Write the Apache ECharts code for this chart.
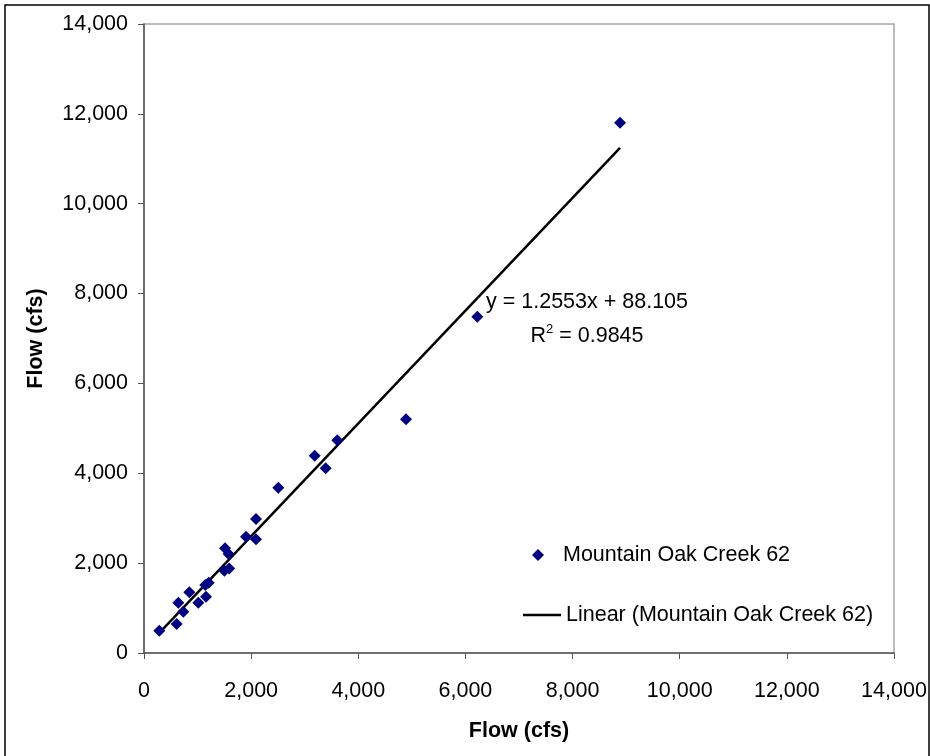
<!DOCTYPE html>
<html>
<head>
<meta charset="utf-8">
<script src="https://cdn.jsdelivr.net/npm/echarts@6/dist/echarts.min.js"></script>
<style>
  html, body { margin: 0; padding: 0; background: #fff; }
  #chart { width: 930px; height: 756px; }
</style>
</head>
<body>
<div id="chart"></div>
<script>
// Observed flow pairs (cfs)
const flowX = [286, 610, 641, 734, 846, 1014, 1157, 1145, 1207, 1512, 1580, 1500, 1590,
               1904, 2091, 2091, 2507, 3186, 3391, 3609, 4891, 6222, 8886];
const flowY = [496, 645, 1120, 920, 1351, 1120, 1254, 1513, 1565, 2330, 2203, 1830, 1880,
               2589, 2531, 2982, 3680, 4392, 4110, 4734, 5201, 7485, 11803];

// Least-squares fit reported for the series
const fitSlope = 1.2553;
const fitIntercept = 88.105;
const fitR2 = 0.9845;

const seriesName = 'Mountain Oak Creek 62';
const trendName = 'Linear (Mountain Oak Creek 62)';
const axisTitle = 'Flow (cfs)';

const points = flowX.map((x, i) => [x, flowY[i]]);
const xMin = Math.min(...flowX);
const xMax = Math.max(...flowX);
const trend = [xMin, xMax].map(x => [x, fitSlope * x + fitIntercept]);

const FONT = '"Liberation Sans", Arial, sans-serif';
const FS = 21.5;
const fmt = v => v.toLocaleString('en-US');

const chart = echarts.init(document.getElementById('chart'), null, { renderer: 'canvas' });

const axisCommon = {
  type: 'value',
  min: 0,
  max: 14000,
  interval: 2000,
  splitLine: { show: false },
  axisLine: { show: true, onZero: false, lineStyle: { color: '#555', width: 1.5 } },
  axisTick: { show: true, inside: false, length: 6, lineStyle: { color: '#555', width: 1 } },
  nameLocation: 'middle',
  nameTextStyle: { fontFamily: FONT, fontSize: FS, fontWeight: 'bold', color: '#000' }
};

chart.setOption({
  animation: false,
  backgroundColor: '#fff',
  grid: {
    left: 144, top: 24, right: 36, bottom: 103,
    show: true, borderColor: '#a6a6a6', borderWidth: 1.5,
    outerBoundsMode: 'none', containLabel: false
  },
  xAxis: Object.assign({}, axisCommon, {
    name: axisTitle,
    nameGap: 67,
    axisLabel: { margin: 27, formatter: fmt, fontFamily: FONT, fontSize: FS, color: '#000' }
  }),
  yAxis: Object.assign({}, axisCommon, {
    name: axisTitle,
    nameGap: 97,
    nameRotate: 90,
    axisLabel: { margin: 16, formatter: fmt, fontFamily: FONT, fontSize: FS, color: '#000' }
  }),
  legend: [
    {
      data: [{ name: seriesName, icon: 'diamond' }],
      left: 527, top: 539,
      itemWidth: 12, itemHeight: 12,
      selectedMode: false,
      textStyle: { fontFamily: FONT, fontSize: FS, color: '#000', padding: [0, 0, 0, 14] }
    },
    {
      data: [{ name: trendName, icon: 'rect', itemStyle: { color: '#000' } }],
      left: 518, top: 599,
      itemWidth: 38, itemHeight: 2.5,
      selectedMode: false,
      textStyle: { fontFamily: FONT, fontSize: FS, color: '#000' }
    }
  ],
  series: [
    {
      name: trendName,
      type: 'line',
      data: trend,
      symbol: 'none',
      lineStyle: { color: '#000', width: 2.5 },
      itemStyle: { color: '#000' },
      z: 2
    },
    {
      name: seriesName,
      type: 'scatter',
      data: points,
      symbol: 'diamond',
      symbolSize: 12,
      itemStyle: { color: '#000080', opacity: 1 },
      z: 3
    }
  ],
  graphic: [
    {
      type: 'rect',
      shape: { x: 5, y: 5, width: 924, height: 770 },
      style: { fill: 'none', stroke: '#000', lineWidth: 1.5 },
      silent: true
    },
    {
      type: 'text',
      x: 587, y: 285,
      style: {
        text: 'y = ' + fitSlope + 'x + ' + fitIntercept + '\nR{sup|2} = ' + fitR2,
        align: 'center',
        verticalAlign: 'top',
        fontFamily: FONT, fontSize: FS, lineHeight: 34, fill: '#000',
        rich: {
          sup: { fontFamily: FONT, fontSize: 13, verticalAlign: 'top', lineHeight: 34, padding: [4, 0, 0, 0] }
        }
      }
    }
  ]
});
</script>
</body>
</html>
